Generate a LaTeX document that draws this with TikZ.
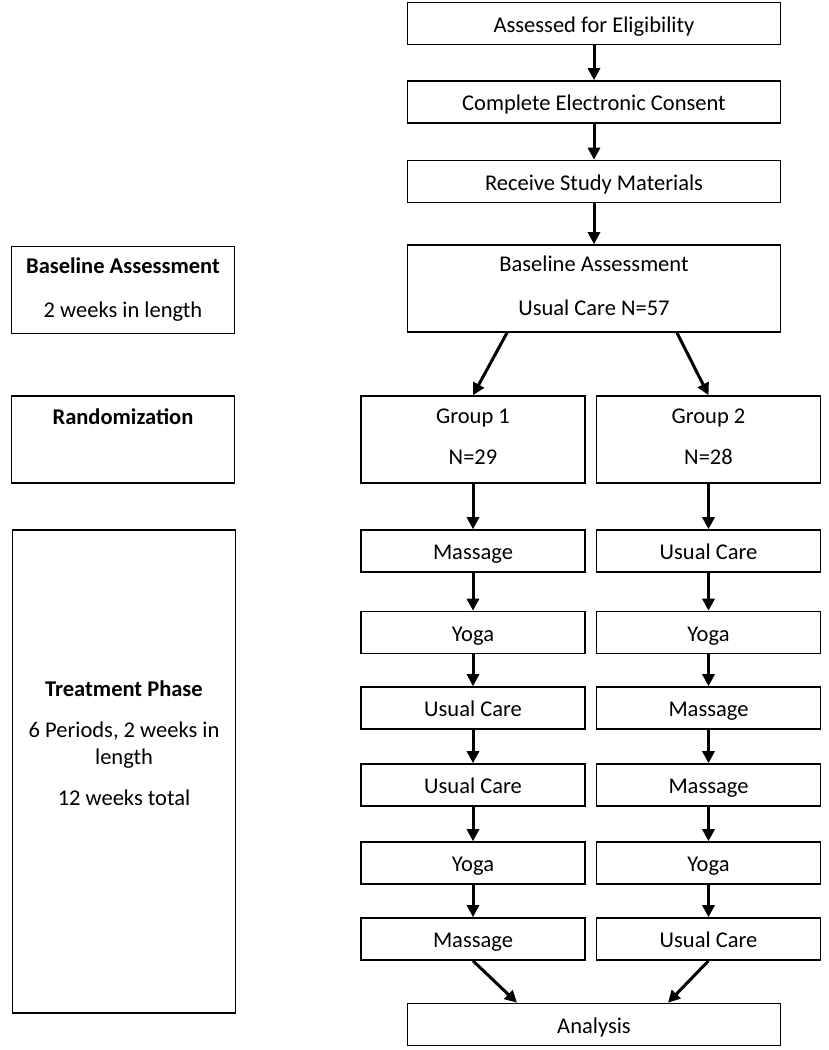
\documentclass[tikz,border=0pt]{standalone}
\usepackage{fontspec}
\setmainfont{Carlito}
\usetikzlibrary{arrows.meta, positioning}

% fixed line height and depth so all box texts sit alike
\newcommand{\topstrut}{\rule{0pt}{23pt}}
\newcommand{\tallstrut}{\rule{0pt}{28pt}}
\newcommand{\botstrut}{\rule[-5.5pt]{0pt}{5.5pt}}

\begin{document}
\begin{tikzpicture}[x=1pt, y=-1pt, % one unit = one pixel of the layout, y grows downwards
    box/.style={draw, line width=1.6pt, rectangle, inner sep=0pt, align=center,
                minimum width=373pt, minimum height=42pt, font=\fontsize{22.5}{27}\selectfont,
                execute at begin node=\topstrut, execute at end node=\botstrut},
    tall/.style={minimum height=87pt, execute at begin node=\tallstrut},
    side/.style={minimum width=223pt},
    grp/.style={minimum width=224pt},
    arr/.style={-{Triangle[length=12pt, width=12pt]}, line width=3pt}]
  \useasboundingbox (0,0) rectangle (829,1050);

  % Main column before randomization
  \node[box] (elig) at (594,23.5) {Assessed for Eligibility};
  \node[box] (consent) at (594,102) {Complete Electronic Consent};
  \node[box] (material) at (594,181.5) {Receive Study Materials};
  \node[box, tall] (base) at (594,288.5) {Baseline Assessment\\[17pt]Usual Care N=57};

  % Phase boxes on the left
  \node[box, side, tall] (sbase) at (123,290) {\textbf{Baseline Assessment}\\[17pt]2 weeks in length};
  \node[box, side, tall] (srand) at (123,439.5) {\textbf{Randomization}\\[14pt]};
  \node[box, side, minimum height=483pt] (treat) at (124,771.5) {};
  \node[font=\fontsize{22.5}{27}\selectfont, align=center] (treattxt) at (124,743.5)
    {\textbf{Treatment Phase}\\[14pt]6 Periods, 2 weeks in\\length\\[14pt]12 weeks total};

  % Group 1
  \node[box, grp, tall] (g1) at (473,439.5) {Group 1\\[14pt]N=29};
  \node[box, grp] (a1) at (473,551) {Massage};
  \node[box, grp] (a2) at (473,632.5) {Yoga};
  \node[box, grp] (a3) at (473,708) {Usual Care};
  \node[box, grp] (a4) at (473,785) {Usual Care};
  \node[box, grp] (a5) at (473,863) {Yoga};
  \node[box, grp] (a6) at (473,939) {Massage};

  % Group 2
  \node[box, grp, tall] (g2) at (708.5,439.5) {Group 2\\[14pt]N=28};
  \node[box, grp] (b1) at (708.5,551) {Usual Care};
  \node[box, grp] (b2) at (708.5,632.5) {Yoga};
  \node[box, grp] (b3) at (708.5,708) {Massage};
  \node[box, grp] (b4) at (708.5,785) {Massage};
  \node[box, grp] (b5) at (708.5,863) {Yoga};
  \node[box, grp] (b6) at (708.5,939) {Usual Care};

  \node[box] (anal) at (594,1024.5) {Analysis};

  % Arrows
  \path [arr] (elig) edge (consent);
  \path [arr] (consent) edge (material);
  \path [arr] (material) edge (base);
  \path [arr] ([xshift=-87pt]base.south) edge (g1.north);
  \path [arr] ([xshift=83pt]base.south) edge (g2.north);
  \path [arr] (g1) edge (a1);
  \path [arr] (a1) edge (a2);
  \path [arr] (a2) edge (a3);
  \path [arr] (a3) edge (a4);
  \path [arr] (a4) edge (a5);
  \path [arr] (a5) edge (a6);
  \path [arr] (g2) edge (b1);
  \path [arr] (b1) edge (b2);
  \path [arr] (b2) edge (b3);
  \path [arr] (b3) edge (b4);
  \path [arr] (b4) edge (b5);
  \path [arr] (b5) edge (b6);
  \path [arr] (a6.south) edge ([xshift=-77pt]anal.north);
  \path [arr] (b6.south) edge ([xshift=74pt]anal.north);
\end{tikzpicture}
\end{document}
